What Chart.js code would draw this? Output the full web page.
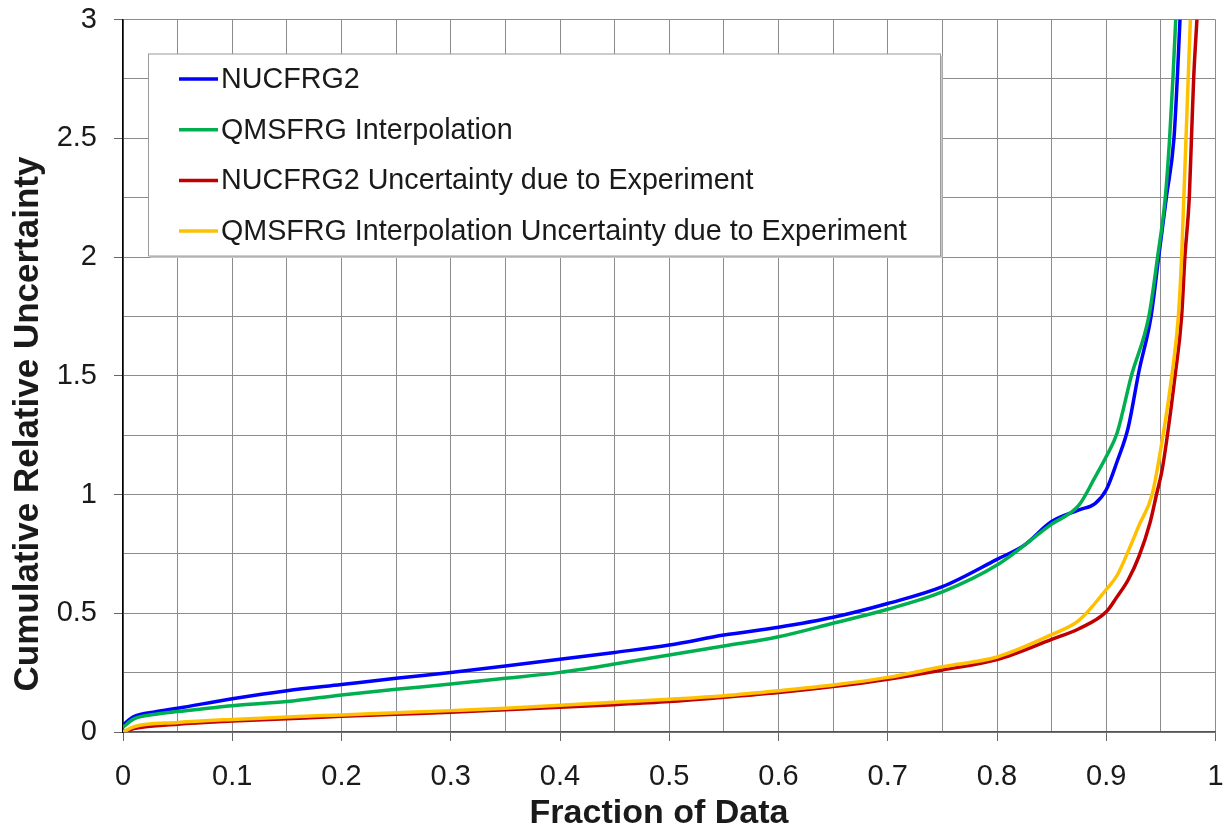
<!DOCTYPE html>
<html lang="en">
<head>
<meta charset="UTF-8">
<title>Cumulative Relative Uncertainty</title>
<script src="https://cdn.jsdelivr.net/npm/chart.js@4.4.0/dist/chart.umd.min.js"></script>
<style>
    html, body { margin: 0; padding: 0; background: #fff; }
    #wrap { width: 1230px; height: 833px; position: relative; }
</style>
</head>
<body>
<div id="wrap"><canvas id="uncChart"></canvas></div>
<script>
// fraction of data (x) against cumulative relative uncertainty (y), one pair per series
const nucFrac = [0, 0.01, 0.03, 0.05, 0.1, 0.15, 0.2, 0.25, 0.3, 0.35, 0.4, 0.45, 0.5, 0.55, 0.6, 0.65, 0.7, 0.75, 0.8, 0.825, 0.85, 0.875, 0.89, 0.9, 0.91, 0.92, 0.93, 0.941, 0.948, 0.955, 0.962, 0.965, 0.9675];
const nucUnc  = [0.03, 0.065, 0.085, 0.10, 0.14, 0.174, 0.20, 0.226, 0.251, 0.278, 0.306, 0.335, 0.366, 0.408, 0.441, 0.483, 0.541, 0.612, 0.727, 0.787, 0.886, 0.935, 0.963, 1.02, 1.14, 1.28, 1.52, 1.75, 2.0, 2.25, 2.5, 2.75, 3.0];

const qmsFrac = [0, 0.01, 0.03, 0.05, 0.1, 0.15, 0.2, 0.25, 0.3, 0.35, 0.4, 0.45, 0.5, 0.55, 0.6, 0.65, 0.7, 0.75, 0.8, 0.85, 0.875, 0.89, 0.9, 0.91, 0.923, 0.939, 0.947, 0.954, 0.958, 0.961, 0.9636];
const qmsUnc  = [0.02, 0.055, 0.075, 0.086, 0.111, 0.128, 0.156, 0.18, 0.202, 0.226, 0.251, 0.286, 0.324, 0.362, 0.401, 0.458, 0.517, 0.59, 0.703, 0.875, 0.955, 1.075, 1.16, 1.26, 1.5, 1.75, 2.0, 2.25, 2.5, 2.75, 3.0];

const nucExpFrac = [0, 0.01, 0.05, 0.1, 0.15, 0.2, 0.25, 0.3, 0.35, 0.4, 0.45, 0.5, 0.55, 0.6, 0.65, 0.7, 0.75, 0.8, 0.85, 0.875, 0.9, 0.91, 0.92, 0.93, 0.94, 0.946, 0.951, 0.956, 0.963, 0.969, 0.972, 0.976, 0.978, 0.98, 0.983];
const nucExpUnc  = [0.0, 0.015, 0.033, 0.046, 0.056, 0.066, 0.075, 0.083, 0.094, 0.104, 0.115, 0.128, 0.146, 0.166, 0.191, 0.222, 0.261, 0.305, 0.39, 0.435, 0.506, 0.57, 0.64, 0.74, 0.88, 1.0, 1.1, 1.25, 1.5, 1.75, 2.0, 2.25, 2.5, 2.75, 3.0];

const qmsExpFrac = [0, 0.01, 0.05, 0.1, 0.15, 0.2, 0.25, 0.3, 0.35, 0.4, 0.45, 0.5, 0.55, 0.6, 0.65, 0.7, 0.75, 0.8, 0.85, 0.875, 0.9, 0.91, 0.92, 0.93, 0.942, 0.952, 0.96, 0.966, 0.969, 0.971, 0.973, 0.975, 0.977];
const qmsExpUnc  = [0.0, 0.022, 0.04, 0.053, 0.063, 0.072, 0.081, 0.09, 0.10, 0.113, 0.125, 0.138, 0.153, 0.174, 0.198, 0.23, 0.275, 0.316, 0.41, 0.47, 0.6, 0.66, 0.76, 0.87, 1.0, 1.25, 1.5, 1.75, 2.0, 2.25, 2.5, 2.75, 3.0];

const seriesLabels = [
    'NUCFRG2',
    'QMSFRG Interpolation',
    'NUCFRG2 Uncertainty due to Experiment',
    'QMSFRG Interpolation Uncertainty due to Experiment'
];
const seriesColors = ['#0000ff', '#00b050', '#c00000', '#ffc000'];

const FONT = "'Liberation Sans', Arial, sans-serif";
const TEXT = '#1a1a1a';

const toPoints = (xs, ys) => xs.map((x, i) => ({ x: x, y: ys[i] }));
const isMajor = (v, step) => Math.abs(v / step - Math.round(v / step)) < 1e-6;
const fmt = v => String(+v.toFixed(2));

// drop the label overflow padding so layout.padding alone sets the plot edges
const noOverflow = s => { s.paddingTop = 0; s.paddingBottom = 0; s.paddingLeft = 0; s.paddingRight = 0; };

const seriesData = [
    toPoints(nucFrac, nucUnc),
    toPoints(qmsFrac, qmsUnc),
    toPoints(nucExpFrac, nucExpUnc),
    toPoints(qmsExpFrac, qmsExpUnc)
];

// later series sit on top of earlier ones
const datasets = seriesData.map((pts, i) => ({
    label: seriesLabels[i],
    data: pts,
    borderColor: seriesColors[i],
    backgroundColor: seriesColors[i],
    borderWidth: 3.5,
    pointRadius: 0,
    showLine: true,
    fill: false,
    cubicInterpolationMode: 'monotone',
    order: seriesData.length - i
}));

// axis titles and the boxed legend inside the plot
const decor = {
    id: 'decor',
    afterDraw(chart) {
        const ctx = chart.ctx;
        const area = chart.chartArea;
        ctx.save();

        ctx.fillStyle = TEXT;
        ctx.font = 'bold 34px ' + FONT;
        ctx.textAlign = 'center';
        ctx.textBaseline = 'middle';
        ctx.fillText('Fraction of Data', 659, 814);

        ctx.translate(28, 424);
        ctx.rotate(-Math.PI / 2);
        ctx.font = 'bold 35px ' + FONT;
        ctx.fillText('Cumulative Relative Uncertainty', 0, 0);
        ctx.setTransform(1, 0, 0, 1, 0, 0);

        const bx = area.left + 25.5, by = area.top + 34.5, bw = 792, bh = 202;
        ctx.fillStyle = '#c8c8c8';
        ctx.fillRect(bx + 2, by + 2, bw, bh);
        ctx.fillStyle = '#fff';
        ctx.fillRect(bx, by, bw, bh);
        ctx.strokeStyle = '#9a9a9a';
        ctx.lineWidth = 1;
        ctx.strokeRect(bx, by, bw, bh);

        ctx.font = '28.7px ' + FONT;
        ctx.textAlign = 'left';
        chart.data.datasets.forEach((ds, i) => {
            const y = by + 25 + i * 50.7;
            ctx.strokeStyle = ds.borderColor;
            ctx.lineWidth = 3.5;
            ctx.beginPath();
            ctx.moveTo(bx + 30.5, y);
            ctx.lineTo(bx + 69.5, y);
            ctx.stroke();
            ctx.fillStyle = TEXT;
            ctx.fillText(ds.label, bx + 72.5, y + 1);
        });
        ctx.restore();
    }
};

new Chart(document.getElementById('uncChart'), {
    type: 'scatter',
    data: { datasets: datasets },
    plugins: [decor],
    options: {
        responsive: true,
        maintainAspectRatio: false,
        animation: false,
        layout: { padding: { top: 19.5, right: 14.5, left: 0, bottom: 0 } },
        plugins: {
            legend: { display: false },
            tooltip: { enabled: false }
        },
        scales: {
            x: {
                type: 'linear',
                min: 0,
                max: 1,
                afterFit: s => { s.height = 101; noOverflow(s); },
                border: { color: '#555', width: 1.5 },
                grid: {
                    color: '#8c8c8c',
                    lineWidth: 1,
                    tickLength: 9,
                    tickColor: c => isMajor(c.tick.value, 0.1) ? '#666' : 'rgba(0,0,0,0)'
                },
                ticks: {
                    stepSize: 0.05,
                    autoSkip: false,
                    maxRotation: 0,
                    padding: 19,
                    color: TEXT,
                    font: { family: FONT, size: 29 },
                    callback: v => isMajor(v, 0.1) ? fmt(v) : ''
                }
            },
            y: {
                min: 0,
                max: 3,
                afterFit: s => { s.width = 123; noOverflow(s); },
                border: { color: '#000', width: 1.5 },
                grid: {
                    color: '#8c8c8c',
                    lineWidth: 1,
                    tickLength: 9,
                    tickColor: c => isMajor(c.tick.value, 0.5) ? '#666' : 'rgba(0,0,0,0)'
                },
                ticks: {
                    stepSize: 0.25,
                    autoSkip: false,
                    padding: 17,
                    color: TEXT,
                    font: { family: FONT, size: 29 },
                    callback: v => isMajor(v, 0.5) ? fmt(v) : ''
                }
            }
        }
    }
});
</script>
</body>
</html>
